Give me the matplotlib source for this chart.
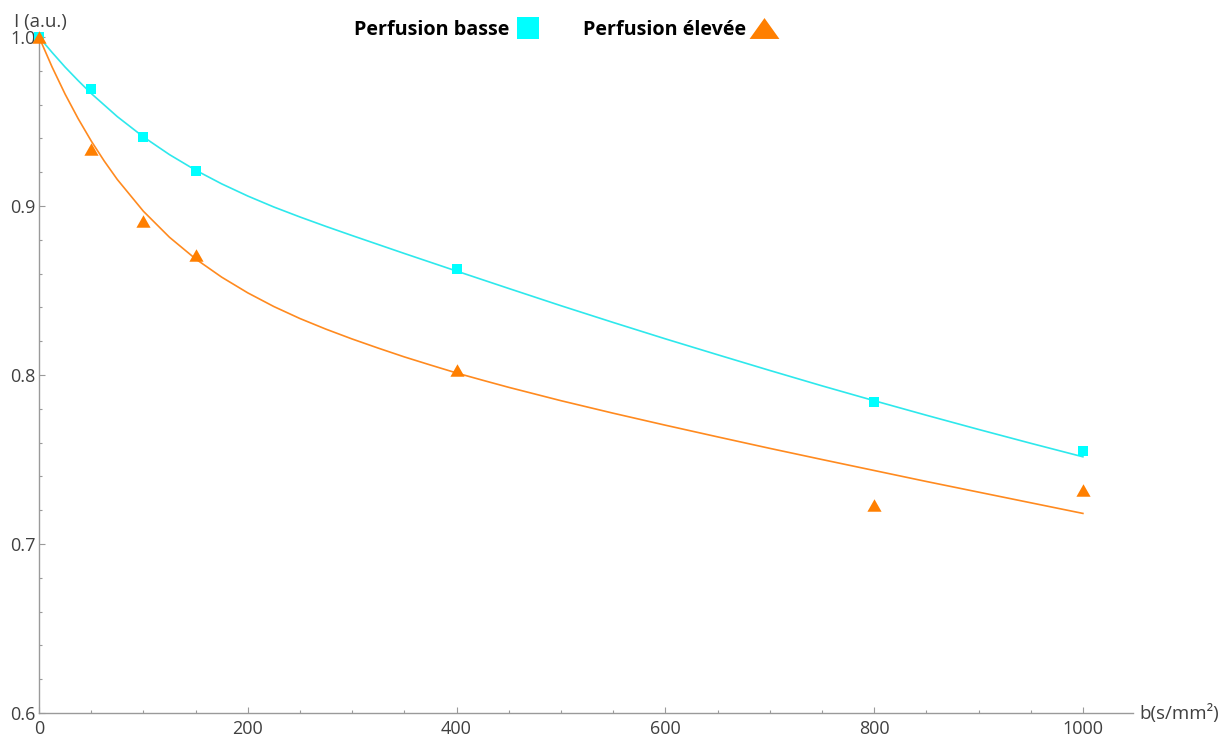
import matplotlib
matplotlib.use("Agg")
import matplotlib.pyplot as plt
from matplotlib.lines import Line2D
from matplotlib.path import Path
from matplotlib.ticker import MultipleLocator, FormatStrFormatter

# ---- data ----
b_values = [0, 50, 100, 150, 400, 800, 1000]
low_perf = [1.000, 0.969, 0.941, 0.921, 0.863, 0.784, 0.755]
high_perf = [1.000, 0.934, 0.891, 0.871, 0.803, 0.723, 0.732]

# fitted curves
b_curve_low = [0, 12.5, 25, 37.5, 50, 75, 100, 125, 150, 175, 200, 225, 250,
               275, 300, 325, 350, 375, 400, 450, 500, 550, 600, 650, 700,
               750, 800, 850, 900, 950, 1000]
low_fit = [1.0000, 0.9909, 0.9822, 0.9742, 0.9666, 0.9529, 0.9409, 0.9304,
           0.9212, 0.9131, 0.9059, 0.8994, 0.8935, 0.8879, 0.8825, 0.8772,
           0.8719, 0.8667, 0.8615, 0.8512, 0.8410, 0.8311, 0.8214, 0.8120,
           0.8027, 0.7936, 0.7848, 0.7762, 0.7678, 0.7596, 0.7516]

b_curve_high = [0, 12.5, 25, 37.5, 50, 62.5, 75, 100, 125, 150, 175, 200,
                225, 250, 275, 300, 325, 350, 375, 400, 425, 450, 500, 550,
                600, 650, 700, 750, 800, 850, 900, 950, 1000]
high_fit = [1.0000, 0.9823, 0.9662, 0.9517, 0.9385, 0.9266, 0.9157, 0.8969,
            0.8815, 0.8687, 0.8579, 0.8486, 0.8405, 0.8334, 0.8271, 0.8213,
            0.8159, 0.8107, 0.8059, 0.8012, 0.7969, 0.7927, 0.7848, 0.7774,
            0.7703, 0.7634, 0.7566, 0.7500, 0.7435, 0.7370, 0.7307, 0.7244,
            0.7181]

labels = ["Perfusion basse", "Perfusion élevée"]
x_label = "b(s/mm²)"
y_label = "I (a.u.)"

CYAN = "#00FFFF"
CYAN_LINE = "#2EE8EC"
ORANGE = "#FF7F00"
ORANGE_LINE = "#FF8A1F"
AXCOL = "#9A9A9A"
TXT = "#404040"

plt.rcParams['font.family'] = ['Open Sans', 'DejaVu Sans']


def tri(ratio):
    h = ratio
    return Path([(-1, -h), (1, -h), (0, h), (-1, -h)],
                [Path.MOVETO, Path.LINETO, Path.LINETO, Path.CLOSEPOLY])


fig = plt.figure(figsize=(12.23, 7.36), dpi=100)
ax = fig.add_axes([39 / 1223, 23 / 736, 1094 / 1223, 676 / 736])

ax.plot(b_curve_low, low_fit, color=CYAN_LINE, lw=1.2, zorder=2)
ax.plot(b_curve_high, high_fit, color=ORANGE_LINE, lw=1.2, zorder=2)
ax.plot(b_values, low_perf, linestyle='none', marker='s', ms=7.6,
        color=CYAN, mew=0, zorder=3, clip_on=False)
ax.plot(b_values, high_perf, linestyle='none', marker=tri(0.88), ms=10.2,
        color=ORANGE, mew=0, zorder=4, clip_on=False)

ax.set_xlim(0, 1048)
ax.set_ylim(0.6, 1.0)

for s in ['top', 'right']:
    ax.spines[s].set_visible(False)
for s in ['left', 'bottom']:
    ax.spines[s].set_color(AXCOL)
    ax.spines[s].set_linewidth(1.0)

ax.xaxis.set_major_locator(MultipleLocator(200))
ax.xaxis.set_minor_locator(MultipleLocator(50))
ax.yaxis.set_major_locator(MultipleLocator(0.1))
ax.yaxis.set_minor_locator(MultipleLocator(0.02))
ax.yaxis.set_major_formatter(FormatStrFormatter('%.1f'))

ax.tick_params(which='both', direction='in', color=AXCOL, width=0.8)
ax.tick_params(which='major', length=4)
ax.tick_params(which='minor', length=2.5)
ax.tick_params(axis='both', labelsize=13, labelcolor=TXT)
ax.tick_params(axis='x', pad=5)
ax.tick_params(axis='y', pad=2.5)

fig.text(40 / 1223, 1 - 22 / 736, y_label, ha='center', va='center',
         fontsize=13.5, color=TXT)
fig.text(1179 / 1223, 1 - 713 / 736, x_label, ha='center', va='center',
         fontsize=13.5, color=TXT)

handles = [
    Line2D([], [], linestyle='none', marker='s', ms=16, color=CYAN, mew=0),
    Line2D([], [], linestyle='none', marker=tri(0.70), ms=21.5, color=ORANGE, mew=0),
]
fig.legend(handles, labels, loc='center', bbox_to_anchor=(565 / 1223, 1 - 30 / 736),
           ncol=2, frameon=False, markerfirst=False, handlelength=1.2,
           handletextpad=0.3, columnspacing=2.2,
           prop={'weight': 'bold', 'size': 14.2})

fig.savefig("out.png", dpi=100)
